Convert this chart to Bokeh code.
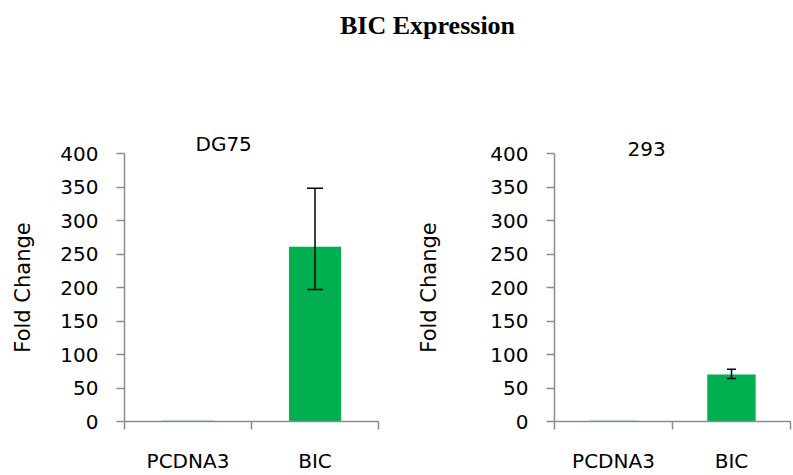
from bokeh.plotting import figure
from bokeh.models import (ColumnDataSource, Range1d, FixedTicker, Whisker, TeeHead, Div)
from bokeh.layouts import column, row
from bokeh.embed import file_html
from bokeh.resources import INLINE

# ---- data ----
categories = ["PCDNA3", "BIC"]
y_ticks = [0, 50, 100, 150, 200, 250, 300, 350, 400]

dg75_values = [1, 261]
dg75_upper = [None, 348]
dg75_lower = [None, 197]

h293_values = [1, 70]
h293_upper = [None, 78]
h293_lower = [None, 64]

GREEN = "#00B050"
AXIS = "#8c8c8c"
FONT = "DejaVu Sans"
FIG_H = 379


def make_panel(title, values, upper, lower, width, left_border, right_border,
               title_offset, label_standoff, tee):
    n = len(categories)
    xs = [i + 0.5 for i in range(n)]
    p = figure(width=width, height=FIG_H, output_backend="svg", toolbar_location=None,
               x_range=Range1d(0, n), y_range=Range1d(y_ticks[0], y_ticks[-1]),
               min_border_left=left_border, min_border_right=right_border,
               min_border_top=57, min_border_bottom=53)
    p.outline_line_color = None
    p.xgrid.visible = False
    p.ygrid.visible = False
    p.background_fill_color = "white"
    p.border_fill_color = "white"

    p.title.text = title
    p.title.align = "left"
    p.title.offset = title_offset
    p.title.text_font = FONT
    p.title.text_font_size = "20px"
    p.title.text_font_style = "normal"
    p.title.text_color = "black"
    p.title.standoff = -5

    src = ColumnDataSource(dict(x=xs, top=values, cat=categories))
    p.vbar(x="x", top="top", bottom=0, width=0.41, source=src,
           fill_color=GREEN, line_color=None)

    ex, eu, el = [], [], []
    for x, u, l in zip(xs, upper, lower):
        if u is not None:
            ex.append(x); eu.append(u); el.append(l)
    esrc = ColumnDataSource(dict(x=ex, upper=eu, lower=el))
    wh = Whisker(base="x", upper="upper", lower="lower", source=esrc,
                 line_color="black", line_width=1.5, level="overlay",
                 upper_head=TeeHead(size=tee, line_color="black", line_width=1.5),
                 lower_head=TeeHead(size=tee, line_color="black", line_width=1.5))
    p.add_layout(wh)

    # x axis: labels at category centres, tick marks at category boundaries
    xa = p.xaxis[0]
    xa.ticker = FixedTicker(ticks=xs, minor_ticks=list(range(n + 1)))
    xa.major_label_overrides = {x: c for x, c in zip(xs, categories)}
    xa.major_tick_line_color = None
    xa.major_tick_out = 0
    xa.major_tick_in = 0
    xa.minor_tick_line_color = AXIS
    xa.minor_tick_line_width = 1.5
    xa.minor_tick_out = 8
    xa.minor_tick_in = 0
    xa.axis_line_color = AXIS
    xa.axis_line_width = 1.5
    xa.major_label_text_font = FONT
    xa.major_label_text_font_size = "20px"
    xa.major_label_text_color = "black"
    xa.major_label_standoff = 19

    ya = p.yaxis[0]
    ya.ticker = FixedTicker(ticks=y_ticks)
    ya.minor_tick_line_color = None
    ya.major_tick_line_color = AXIS
    ya.major_tick_line_width = 1.5
    ya.major_tick_out = 8
    ya.major_tick_in = 0
    ya.axis_line_color = AXIS
    ya.axis_line_width = 1.5
    ya.major_label_text_font = FONT
    ya.major_label_text_font_size = "20px"
    ya.major_label_text_color = "black"
    ya.major_label_standoff = 18
    ya.axis_label = "Fold Change"
    ya.axis_label_text_font = FONT
    ya.axis_label_text_font_size = "21px"
    ya.axis_label_text_font_style = "normal"
    ya.axis_label_text_color = "black"
    ya.axis_label_standoff = label_standoff
    return p


p1 = make_panel("DG75", dg75_values, dg75_upper, dg75_lower, width=400,
                left_border=124, right_border=22, title_offset=71,
                label_standoff=22, tee=16)
p2 = make_panel("293", h293_values, h293_upper, h293_lower, width=393,
                left_border=154, right_border=3, title_offset=73,
                label_standoff=46, tee=9)

head = Div(text='<div style="font-family: \'Liberation Serif\', \'Times New Roman\', serif; '
                'font-weight: bold; font-size: 26px; line-height: 30px; '
                'padding-left: 340px; padding-top: 11px; color: black;">BIC Expression</div>',
           width=793, height=96, margin=(0, 0, 0, 0))

layout = column(head, row(p1, p2, spacing=0), spacing=0)

open("out.html", "w").write(file_html(layout, INLINE))
